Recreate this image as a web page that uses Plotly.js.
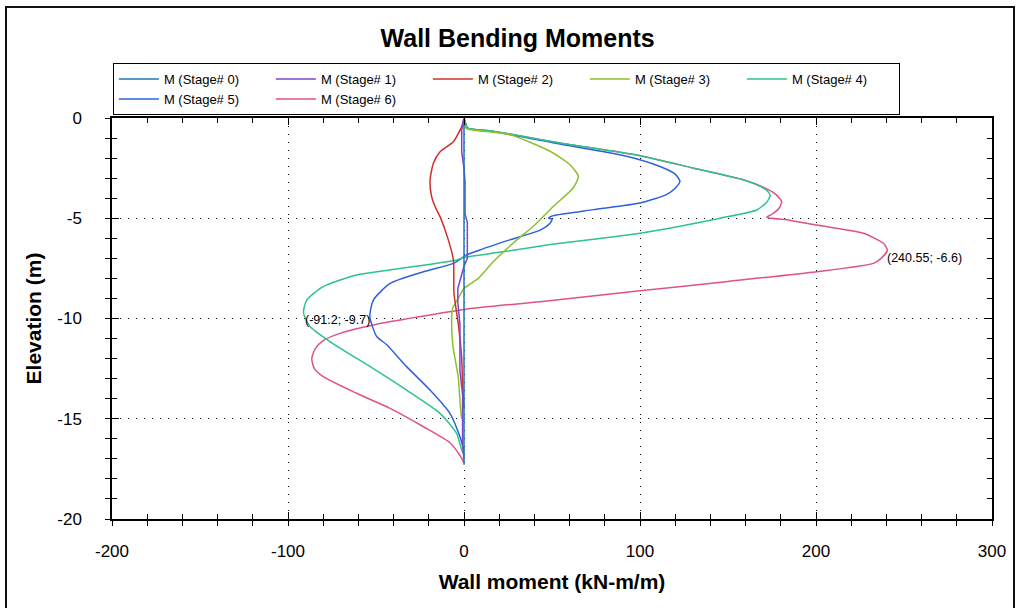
<!DOCTYPE html>
<html>
<head>
<meta charset="utf-8">
<script src="https://cdn.plot.ly/plotly-3.0.1.min.js"></script>
<style>
  html, body { margin: 0; padding: 0; background: #ffffff; }
  #chart { width: 1021px; height: 608px; position: absolute; left: 0; top: 0; }
  #frame { position: absolute; left: 5px; top: 6px; width: 1010px; height: 700px;
           border: 2px solid #111; pointer-events: none; box-sizing: border-box; }
</style>
</head>
<body>
<div id="chart"></div>
<div id="frame"></div>
<script>
// ---- data (wall moment kN-m/m vs elevation m) ----
const stageNames = ["M (Stage# 0)", "M (Stage# 1)", "M (Stage# 2)", "M (Stage# 3)", "M (Stage# 4)", "M (Stage# 5)", "M (Stage# 6)"];
const stageColors = ["#1b78b6", "#7a44d0", "#d0302a", "#8cc12a", "#2bc48c", "#2d62dc", "#e0508c"];

const m0 = [0, 0];
const e0 = [0, -17.3];

const m1 = [0, -0.5, -1.3, -1.3, 0, 0.6, 0.6, 1.9, 1.9, 0, -2.0, -3.5, -3.5, -2.3, -2.3, -0.8, -0.8, 0];
const e1 = [0, -0.3, -0.6, -1.7, -2.5, -3.2, -4.8, -5.2, -7.0, -7.4, -8.0, -8.5, -9.2, -10.3, -12.6, -13.8, -16.3, -17.0];

const m2 = [0, -1.3, -6.0, -13.6, -17.4, -19.3, -18.4, -16.0, -13.6, -8.9, -6.0, -5.7, -3.2, -1.3, -0.8, 0];
const e2 = [0, -0.43, -1.18, -1.68, -2.26, -3.1, -3.92, -4.5, -4.92, -6.08, -7.08, -8.74, -10.3, -11.97, -13.3, -14.5];

const m3 = [0, 0, 2, 26, 48.9, 60.2, 65, 62, 50.7, 39.4, 30, 16.6, 8.1, 0, -3.2, -6.4, -7.0, -6.4, -3.2, -1.3, 0];
const e3 = [0, -0.4, -0.55, -0.83, -1.66, -2.33, -2.91, -3.49, -4.41, -5.4, -6.08, -7.17, -8.0, -8.5, -8.98, -9.48, -10.0, -11.3, -12.97, -14.96, -15.1];

const m4 = [0, 1, 2, 16.6, 54.5, 100, 130, 158.7, 168, 172.5, 174, 172, 166.3, 145.5, 100, 50, 20, 0, -4.2, -42, -61, -80, -89.4, -91.2, -87.5, -76, -51.5, -32.6, -13.6, -4.2, -1.3, 0];
const e4 = [0, -0.3, -0.5, -0.66, -1.25, -1.88, -2.49, -3.08, -3.4, -3.65, -3.86, -4.2, -4.59, -5.0, -5.75, -6.3, -6.7, -6.95, -7.08, -7.58, -7.83, -8.41, -9.08, -9.7, -10.4, -11.16, -12.5, -13.57, -14.73, -15.73, -16.56, -16.8];

const m5 = [0, 1, 2, 16.6, 54.5, 92.4, 111, 120, 122.7, 120, 115, 100, 73.5, 50.7, 48, 50, 48.9, 43.2, 26, 9, 1.5, -6, -23, -42, -51.5, -53.5, -49.6, -44, -32.6, -19.3, -8, -2.3, 0];
const e5 = [0, -0.3, -0.5, -0.68, -1.3, -1.91, -2.41, -2.8, -3.16, -3.5, -3.82, -4.24, -4.57, -4.87, -4.99, -5.05, -5.25, -5.59, -6.08, -6.58, -6.83, -7.25, -7.67, -8.25, -9.08, -9.9, -10.9, -11.3, -12.4, -13.57, -14.73, -15.9, -16.6];

const m6 = [0, 1, 2, 16.6, 54.5, 100, 130, 158.7, 170, 177, 180.5, 179, 175, 172, 185, 200.4, 226.9, 238.3, 240.55, 237, 232.6, 200.4, 150, 100, 43.2, 0, -51.5, -70.5, -80, -84.5, -86.5, -85, -80, -61, -42, -23, -8, -1.3, 0];
const e6 = [0, -0.3, -0.5, -0.66, -1.25, -1.88, -2.49, -3.08, -3.45, -3.8, -4.17, -4.5, -4.8, -4.95, -5.1, -5.34, -5.75, -6.25, -6.6, -7.0, -7.25, -7.67, -8.15, -8.62, -9.16, -9.55, -10.32, -10.74, -11.1, -11.5, -12.0, -12.5, -12.9, -13.73, -14.48, -15.4, -16.2, -16.97, -17.2];

const xTickVals = [-200, -100, 0, 100, 200, 300];
const yTickVals = [0, -5, -10, -15, -20];

const moments = [m0, m1, m2, m3, m4, m5, m6];
const elevs = [e0, e1, e2, e3, e4, e5, e6];
const smoothStages = [false, false, true, true, true, true, true];

// ---- traces (drawn in reverse so Stage 0 sits on top; legend reversed back) ----
const traces = [];
for (let i = moments.length - 1; i >= 0; i--) {
  traces.push({
    type: "scatter", mode: "lines",
    x: moments[i], y: elevs[i],
    name: stageNames[i],
    line: smoothStages[i]
      ? { color: stageColors[i], width: 1.5, shape: "spline", smoothing: 0.6 }
      : { color: stageColors[i], width: 1.5 },
    hoverinfo: "x+y+name"
  });
}

// labelled extremes from the data
function extreme(xs, ys, wantMax) {
  let k = 0;
  for (let i = 1; i < xs.length; i++) {
    if (wantMax ? xs[i] > xs[k] : xs[i] < xs[k]) k = i;
  }
  return [xs[k], ys[k]];
}
const pMax = extreme(m6, e6, true);
const pMin = extreme(m4, e4, false);

const font = "Liberation Sans, Arial, sans-serif";

const layout = {
  width: 1021, height: 608,
  margin: { l: 112, r: 29, t: 118, b: 89 },
  paper_bgcolor: "#ffffff", plot_bgcolor: "#ffffff",
  showlegend: true,
  title: {
    text: "<b>Wall Bending Moments</b>",
    font: { family: font, size: 25, color: "#000" },
    x: 0.507, xref: "container", xanchor: "center",
    y: 0.9375, yref: "container", yanchor: "middle"
  },
  legend: {
    orientation: "h", traceorder: "reversed",
    x: 0.001, xanchor: "left", y: 1.137, yanchor: "top",
    bordercolor: "#000", borderwidth: 1, bgcolor: "rgba(255,255,255,0)",
    font: { family: font, size: 13, color: "#000" },
    itemwidth: 40, entrywidth: 102, entrywidthmode: "pixels",
    tracegroupgap: 0
  },
  xaxis: {
    range: [-200, 300], tickvals: xTickVals, ticktext: xTickVals.map(String),
    showgrid: true, gridcolor: "#000", gridwidth: 1, griddash: "1px,7px",
    zeroline: false, showline: true, linecolor: "#000", linewidth: 1.5, mirror: "allticks",
    ticks: "inside", ticklen: 7, tickcolor: "#000", tickwidth: 1,
    minor: { dtick: 20, tick0: 0, ticks: "inside", ticklen: 5, tickcolor: "#000", showgrid: false },
    tickfont: { family: font, size: 17, color: "#000" },
    ticklabelstandoff: 16,
    title: { text: "<b>Wall moment (kN-m/m)</b>", font: { family: font, size: 21, color: "#000" }, standoff: 14 }
  },
  yaxis: {
    range: [-20, 0], tickvals: yTickVals, ticktext: yTickVals.map(String),
    showgrid: true, gridcolor: "#000", gridwidth: 1, griddash: "1px,7px",
    zeroline: false, showline: true, linecolor: "#000", linewidth: 1.5, mirror: "allticks",
    ticks: "inside", ticklen: 7, tickcolor: "#000", tickwidth: 1,
    minor: { dtick: 1, tick0: 0, ticks: "inside", ticklen: 5, tickcolor: "#000", showgrid: false },
    tickfont: { family: font, size: 17, color: "#000" },
    ticklabelstandoff: 25,
    title: { text: "<b>Elevation (m)</b>", font: { family: font, size: 21, color: "#000" }, standoff: 10 }
  },
  xaxis2: {
    overlaying: "x", anchor: "y", side: "bottom", range: [-200, 300],
    tickvals: xTickVals, showticklabels: false, showgrid: false, zeroline: false, showline: false,
    ticks: "outside", ticklen: 6, tickcolor: "#000",
    minor: { dtick: 20, tick0: 0, ticks: "outside", ticklen: 6, tickcolor: "#000", showgrid: false }
  },
  yaxis2: {
    overlaying: "y", anchor: "x", side: "left", range: [-20, 0],
    tickvals: yTickVals, showticklabels: false, showgrid: false, zeroline: false, showline: false,
    ticks: "outside", ticklen: 6, tickcolor: "#000",
    minor: { dtick: 1, tick0: 0, ticks: "outside", ticklen: 6, tickcolor: "#000", showgrid: false }
  },
  annotations: [
    {
      x: pMax[0], y: pMax[1], xref: "x", yref: "y",
      text: "(" + pMax[0] + "; " + pMax[1] + ")",
      showarrow: false, xanchor: "left", yanchor: "middle", xshift: -2, yshift: -8,
      font: { family: font, size: 12.5, color: "#000" }
    },
    {
      x: pMin[0], y: pMin[1], xref: "x", yref: "y",
      text: "(" + pMin[0] + "; " + pMin[1] + ")",
      showarrow: false, xanchor: "left", yanchor: "middle", xshift: 0, yshift: -8,
      font: { family: font, size: 12.5, color: "#000" }
    }
  ]
};

// empty helper trace so the overlay axes (crossing ticks) are drawn
traces.push({ type: "scatter", mode: "lines", x: [], y: [], xaxis: "x2", yaxis: "y2", showlegend: false, hoverinfo: "skip" });

Plotly.newPlot("chart", traces, layout, { displayModeBar: false });
</script>
</body>
</html>
